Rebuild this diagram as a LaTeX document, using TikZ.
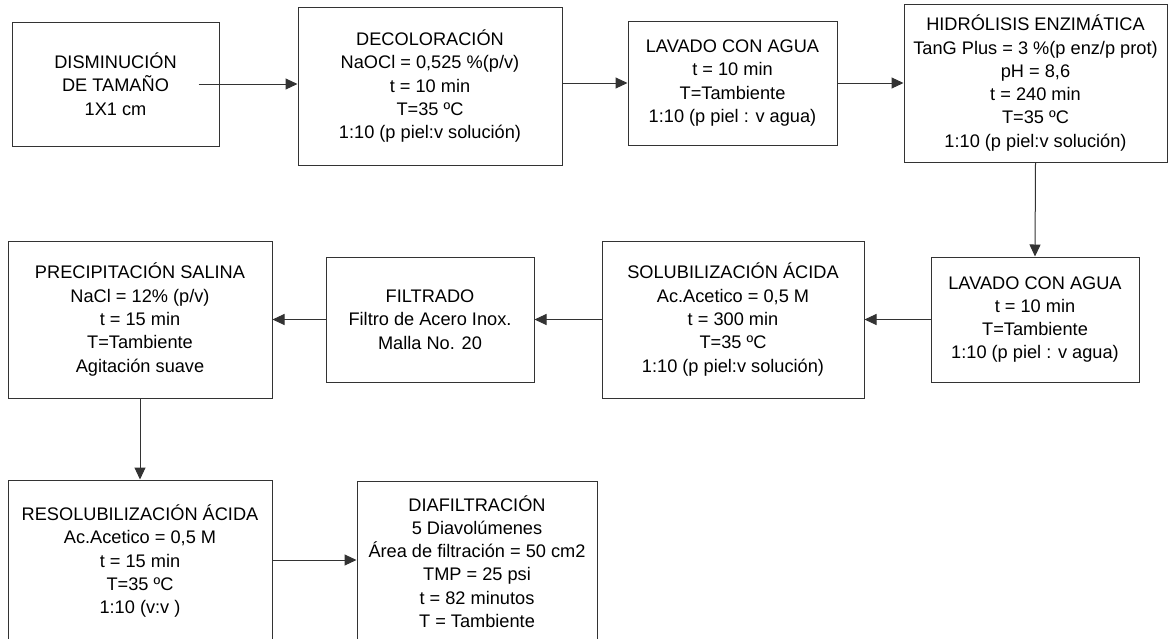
\documentclass[tikz,border=0pt]{standalone}
\usepackage{fontspec}
\setmainfont{Liberation Sans}
\usetikzlibrary{arrows.meta}
\tikzset{
  stepbox/.style={draw=black!80, line width=1pt, rectangle, inner sep=0pt, align=center,
    font=\fontsize{18.2}{23.3}\selectfont, text=black},
  arr/.style={draw=black!80, line width=1pt, -{Triangle[length=12pt,width=11pt]}}
}
\begin{document}
\begin{tikzpicture}[x=1pt,y=-1pt]
\useasboundingbox (0,0) rectangle (1173,638);
\node[stepbox, minimum width=207pt, minimum height=124pt] (b1) at (115.5,84) {DISMINUCIÓN\\DE TAMAÑO\\1X1 cm};
\node[stepbox, minimum width=264pt, minimum height=158pt] (b2) at (430,86) {DECOLORACIÓN\\NaOCl = 0,525 \%(p/v)\\t = 10 min\\T=35 ºC\\1:10 (p piel:v solución)};
\node[stepbox, minimum width=209pt, minimum height=124pt] (b3) at (732.5,83) {LAVADO CON AGUA\\t = 10 min\\T=Tambiente\\1:10 (p piel : v agua)};
\node[stepbox, minimum width=263pt, minimum height=158pt] (b4) at (1035.5,83) {HIDRÓLISIS ENZIMÁTICA\\TanG Plus = 3 \%(p enz/p prot)\\pH = 8,6\\t = 240 min\\T=35 ºC\\1:10 (p piel:v solución)};
\node[stepbox, minimum width=208pt, minimum height=125pt] (b5) at (1035,319.5) {LAVADO CON AGUA\\t = 10 min\\T=Tambiente\\1:10 (p piel : v agua)};
\node[stepbox, minimum width=262pt, minimum height=157pt] (b6) at (733,319.5) {SOLUBILIZACIÓN ÁCIDA\\Ac.Acetico = 0,5 M\\t = 300 min\\T=35 ºC\\1:10 (p piel:v solución)};
\node[stepbox, minimum width=208pt, minimum height=125pt] (b7) at (430,319.5) {FILTRADO\\Filtro de Acero Inox.\\Malla No. 20};
\node[stepbox, minimum width=264pt, minimum height=157pt] (b8) at (140,319.5) {PRECIPITACIÓN SALINA\\NaCl = 12\% (p/v)\\t = 15 min\\T=Tambiente\\Agitación suave};
\node[stepbox, minimum width=264pt, minimum height=162pt] (b9) at (140,561) {RESOLUBILIZACIÓN ÁCIDA\\Ac.Acetico = 0,5 M\\t = 15 min\\T=35 ºC\\1:10 (v:v )};
\node[stepbox, minimum width=240pt, minimum height=161pt] (b10) at (477,561.5) {DIAFILTRACIÓN\\5 Diavolúmenes\\Área de filtración = 50 cm2\\TMP = 25 psi\\t = 82 minutos\\T = Tambiente};
\draw[arr] ([xshift=-21pt]b1.east) -- (b2.west |- b1.east);
\draw[arr] (b2.east |- b3.west) -- (b3.west);
\draw[arr] (b3.east) -- (b4.west |- b3.east);
\draw[arr] (b4.south) -- (b5.north);
\draw[arr] (b5.west) -- (b6.east |- b5.west);
\draw[arr] (b6.west) -- (b7.east);
\draw[arr] (b7.west) -- (b8.east);
\draw[arr] (b8.south) -- (b9.north);
\draw[arr] (b9.east |- 0,560) -- (b10.west |- 0,560);
\end{tikzpicture}
\end{document}
